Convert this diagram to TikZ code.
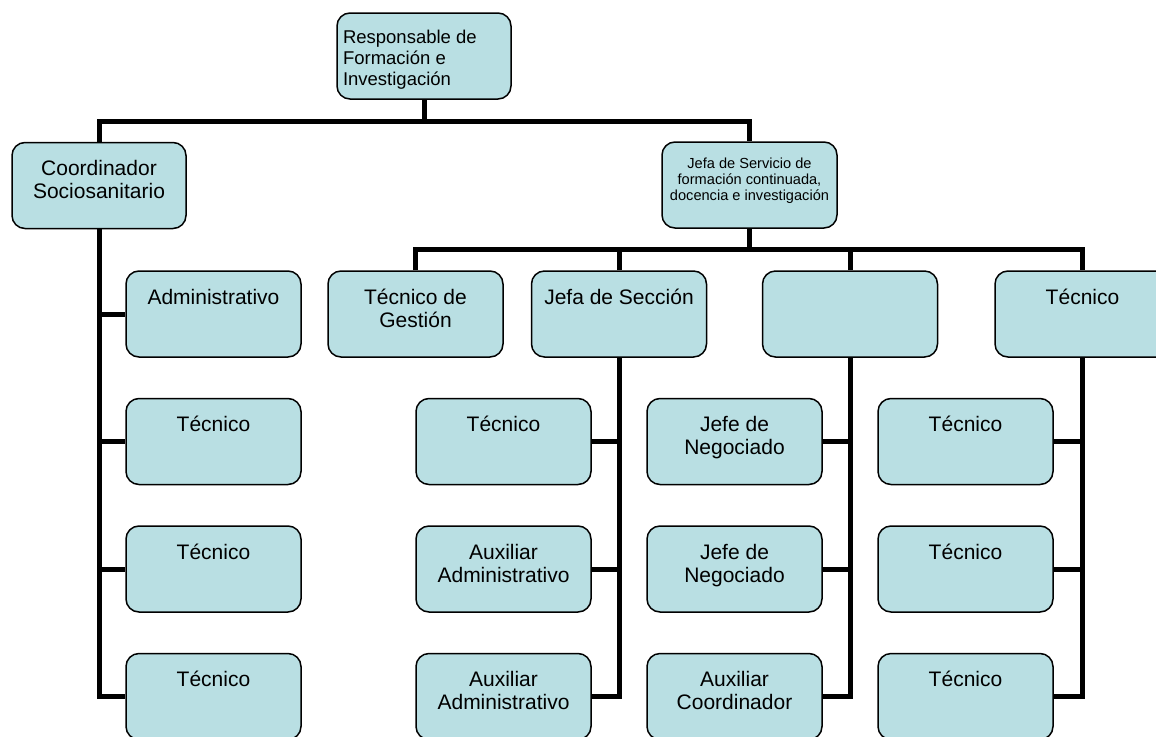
\documentclass[tikz,border=0pt]{standalone}
\usepackage{fontspec}
\setmainfont{Liberation Sans}
\definecolor{boxfill}{RGB}{185,223,227}
\newcommand\boxtext[1]{\parbox[c][86pt][t]{172pt}{\centering\fontsize{21}{23}\selectfont\rule{0pt}{33pt}#1\par}}
\newcommand\topboxtext[1]{\parbox[c][86pt][t]{172pt}{\raggedright\leftskip=5pt\fontsize{18.5}{21}\selectfont\rule{0pt}{30pt}#1\par}}
\newcommand\servtext[1]{\parbox[c][86pt][t]{172pt}{\centering\fontsize{14.6}{16}\selectfont\rule{0pt}{26pt}#1\par}}
\begin{document}
\begin{tikzpicture}[x=1pt,y=-1pt,
  box/.style={draw=black, line width=1.5pt, fill=boxfill, rounded corners=13pt,
              minimum width=175pt, minimum height=86pt, inner sep=0pt},
  conn/.style={line width=5pt}]
\useasboundingbox (0,0) rectangle (1156,736);
\clip (0,0) rectangle (1156,736);

% top levels
\node[box, minimum width=174pt] (top) at (424,56) {\topboxtext{Responsable de\\Formación e\\Investigación}};
\node[box, minimum width=174pt] (coord) at (99,185.5) {\boxtext{Coordinador\\Sociosanitario}};
\node[box] (jserv) at (749.5,185) {\servtext{Jefa de Servicio de\\formación continuada,\\docencia e investigación}};

% row 2
\node[box] (tg)  at (415.5,314) {\boxtext{Técnico de\\Gestión}};
\node[box] (js)  at (619,314)   {\boxtext{Jefa de Sección}};
\node[box] (emp) at (850,314)   {\boxtext{}};
\node[box] (tr)  at (1082.5,314){\boxtext{Técnico}};

% left column
\node[box] (adm) at (213.5,314)   {\boxtext{Administrativo}};
\node[box] (lt1) at (213.5,441.5) {\boxtext{Técnico}};
\node[box] (lt2) at (213.5,569)   {\boxtext{Técnico}};
\node[box] (lt3) at (213.5,696.5) {\boxtext{Técnico}};

% Jefa de Seccion column
\node[box] (jst)  at (503.5,441.5) {\boxtext{Técnico}};
\node[box] (aux1) at (503.5,569)   {\boxtext{Auxiliar\\Administrativo}};
\node[box] (aux2) at (503.5,696.5) {\boxtext{Auxiliar\\Administrativo}};

% empty column
\node[box] (neg1) at (734.5,441.5) {\boxtext{Jefe de\\Negociado}};
\node[box] (neg2) at (734.5,569)   {\boxtext{Jefe de\\Negociado}};
\node[box] (auxc) at (734.5,696.5) {\boxtext{Auxiliar\\Coordinador}};

% right column
\node[box] (rt1) at (965.5,441.5) {\boxtext{Técnico}};
\node[box] (rt2) at (965.5,569)   {\boxtext{Técnico}};
\node[box] (rt3) at (965.5,696.5) {\boxtext{Técnico}};

% connectors
\coordinate (bus1) at (0,121);
\coordinate (bus2) at (0,249);
\draw[conn] (top.south) -- (top.south |- bus1);
\draw[conn] (coord.north) -- (coord.north |- bus1) -| (jserv.north);
\draw[conn] (jserv.south) -- (jserv.south |- bus2);
\draw[conn] (tg.north) -- (tg.north |- bus2) -| (tr.north);
\draw[conn] (js.north) -- (js.north |- bus2);
\draw[conn] (emp.north) -- (emp.north |- bus2);

\foreach \n in {adm,lt1,lt2,lt3} \draw[conn] (coord.south) |- (\n.west);
\foreach \n in {jst,aux1,aux2} \draw[conn] (js.south) |- (\n.east);
\foreach \n in {neg1,neg2,auxc} \draw[conn] (emp.south) |- (\n.east);
\foreach \n in {rt1,rt2,rt3} \draw[conn] (tr.south) |- (\n.east);
\end{tikzpicture}
\end{document}
